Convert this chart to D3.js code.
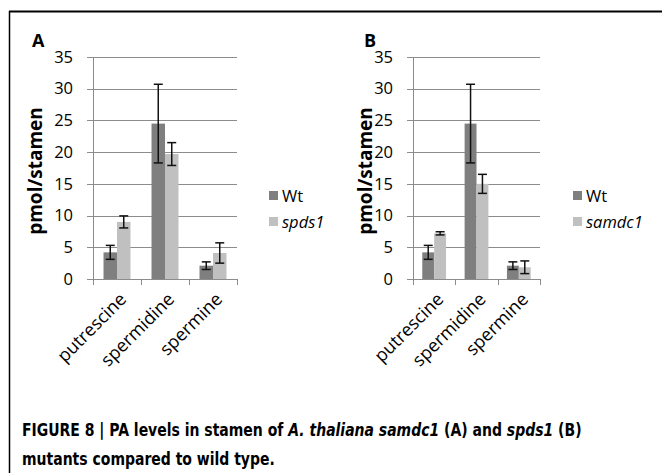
<!DOCTYPE html>
<html>
<head>
<meta charset="utf-8">
<script src="https://cdn.jsdelivr.net/npm/d3@7"></script>
<style>
  body { margin: 0; background: #fff; }
  svg { display: block; }
  text { font-family: "Open Sans", "DejaVu Sans", sans-serif; }
</style>
</head>
<body>
<script>
// Data
var categories = ["putrescine", "spermidine", "spermine"];
var yTicks = [0, 5, 10, 15, 20, 25, 30, 35];

var wtA = [4.2, 24.5, 2.1];
var wtErrA = [1.1, 6.2, 0.6];
var spds1 = [9.0, 19.7, 4.1];
var spds1Err = [0.95, 1.8, 1.6];

var wtB = [4.2, 24.5, 2.1];
var wtErrB = [1.1, 6.2, 0.6];
var samdc1 = [7.2, 15.0, 1.85];
var samdc1Err = [0.25, 1.5, 1.0];

var seriesColors = ["#7f7f7f", "#c0c0c0"];

var panels = [
    {label: "A", names: ["Wt", "spds1"], values: [wtA, spds1], errs: [wtErrA, spds1Err],
     left: 93, right: 237, labelX: 32, yTitleX: 42, legendX: 269},
    {label: "B", names: ["Wt", "samdc1"], values: [wtB, samdc1], errs: [wtErrB, samdc1Err],
     left: 413, right: 540, labelX: 364, yTitleX: 372, legendX: 573}
];
var plotTop = 57, plotBottom = 279;

var svg = d3.select("body").append("svg")
    .attr("width", 662)
    .attr("height", 473);

// frame lines (top and left only)
svg.append("line").attr("x1", 9).attr("x2", 662).attr("y1", 11.5).attr("y2", 11.5)
    .attr("stroke", "#000").attr("stroke-width", 2);
svg.append("line").attr("x1", 9.5).attr("x2", 9.5).attr("y1", 11).attr("y2", 473)
    .attr("stroke", "#000").attr("stroke-width", 1.5);

var yScale = d3.scaleLinear().domain([0, 35]).range([plotBottom - plotTop, 0]);

panels.forEach(function(p) {
    var width = p.right - p.left;
    var height = plotBottom - plotTop;

    var g = svg.append("g").attr("transform", "translate(" + p.left + "," + plotTop + ")");

    var x = d3.scaleBand().domain(categories).range([0, width]);
    var xSub = d3.scaleBand().domain(p.names).range([0, x.bandwidth()]).paddingOuter(0.78);

    //gridlines
    g.selectAll(".grid").data(yTicks).enter().append("line")
        .attr("x1", -6).attr("x2", width)
        .attr("y1", function(d) { return Math.round(yScale(d)) + 0.5; })
        .attr("y2", function(d) { return Math.round(yScale(d)) + 0.5; })
        .attr("stroke", "#8c8c8c").attr("stroke-width", 1);

    //y axis labels
    var yAxis = d3.axisLeft(yScale).tickValues(yTicks).tickSize(0).tickPadding(20);
    var ya = g.append("g").call(yAxis);
    ya.select(".domain").remove();
    ya.selectAll("text").attr("font-size", 16.5).attr("fill", "#000")
        .style("font-family", "'Open Sans', sans-serif");

    //y axis line
    g.append("line").attr("x1", 0.5).attr("x2", 0.5).attr("y1", 0).attr("y2", height)
        .attr("stroke", "#8c8c8c");

    //bars
    p.names.forEach(function(name, si) {
        var grp = g.append("g");
        grp.selectAll("rect").data(categories).enter().append("rect")
            .attr("x", function(c) { return x(c) + xSub(name); })
            .attr("width", xSub.bandwidth())
            .attr("y", function(c, i) { return yScale(p.values[si][i]); })
            .attr("height", function(c, i) { return height - yScale(p.values[si][i]); })
            .attr("fill", seriesColors[si]);

        //error bars
        categories.forEach(function(c, i) {
            var cx = x(c) + xSub(name) + xSub.bandwidth() / 2;
            var hi = yScale(p.values[si][i] + p.errs[si][i]);
            var lo = yScale(p.values[si][i] - p.errs[si][i]);
            grp.append("line").attr("x1", cx).attr("x2", cx).attr("y1", hi).attr("y2", lo)
                .attr("stroke", "#111").attr("stroke-width", 1.5);
            [hi, lo].forEach(function(yy) {
                grp.append("line").attr("x1", cx - 4.5).attr("x2", cx + 4.5).attr("y1", yy).attr("y2", yy)
                    .attr("stroke", "#111").attr("stroke-width", 1.5);
            });
        });
    });

    //x axis
    var xa = g.append("g").attr("transform", "translate(0," + height + ")");
    xa.append("line").attr("x1", 0).attr("x2", width).attr("y1", 0.5).attr("y2", 0.5)
        .attr("stroke", "#8c8c8c");
    var bounds = [0].concat(categories.map(function(c) { return x(c) + x.bandwidth(); }));
    xa.selectAll(".tk").data(bounds).enter().append("line")
        .attr("x1", function(d) { return Math.round(d) + 0.5; })
        .attr("x2", function(d) { return Math.round(d) + 0.5; })
        .attr("y1", 0).attr("y2", 6)
        .attr("stroke", "#8c8c8c");
    xa.selectAll(".xl").data(categories).enter().append("text")
        .attr("transform", function(c) {
            return "translate(" + (x(c) + x.bandwidth() / 2 + 6) + ",17) rotate(-45)";
        })
        .attr("text-anchor", "end")
        .attr("dy", "0.35em")
        .attr("font-size", 18)
        .text(function(c) { return c; });

    //panel letter
    svg.append("text").attr("x", p.labelX).attr("y", 47)
        .attr("font-size", 18).attr("font-weight", "bold").text(p.label);

    //y title
    svg.append("text")
        .attr("transform", "translate(" + p.yTitleX + "," + 171 + ") rotate(-90)")
        .attr("text-anchor", "middle")
        .attr("font-size", 19).attr("font-weight", "bold")
        .text("pmol/stamen");

    //legend
    p.names.forEach(function(name, si) {
        var ly = 191 + si * 26;
        svg.append("rect").attr("x", p.legendX).attr("y", ly).attr("width", 9).attr("height", 9)
            .attr("fill", seriesColors[si]);
        svg.append("text").attr("x", p.legendX + 13).attr("y", ly + 10.5)
            .attr("font-size", 16.5)
            .attr("font-style", si === 1 ? "italic" : "normal")
            .text(name);
    });
});

//caption (condensed bold)
var cap = svg.append("g")
    .attr("transform", "translate(22,0) scale(0.915,1)")
    .attr("font-weight", "bold").attr("font-size", 17);
var line1 = cap.append("text").attr("x", 0).attr("y", 436)
    .style("font-family", "'DejaVu Sans Condensed', 'DejaVu Sans', sans-serif");
line1.append("tspan").text("FIGURE 8 | PA levels in stamen of ");
line1.append("tspan").attr("font-style", "italic").text("A. thaliana samdc1");
line1.append("tspan").text(" (A) and ");
line1.append("tspan").attr("font-style", "italic").text("spds1");
line1.append("tspan").text(" (B)");
cap.append("text").attr("x", 0).attr("y", 465)
    .style("font-family", "'DejaVu Sans Condensed', 'DejaVu Sans', sans-serif")
    .text("mutants compared to wild type.");
</script>
</body>
</html>
